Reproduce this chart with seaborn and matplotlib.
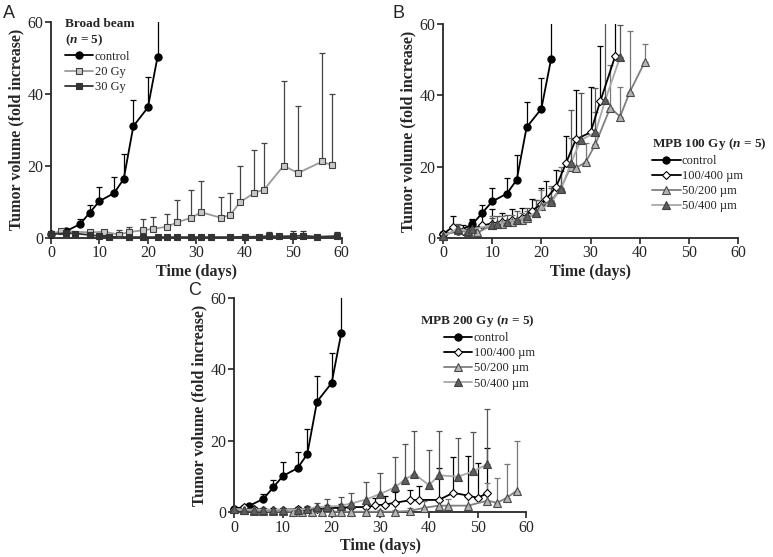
import numpy as np
import matplotlib
matplotlib.use("Agg")
import matplotlib.pyplot as plt
import seaborn as sns

# ---- data ----
# control (same group in every panel)
ctrl_days = [0, 3, 6, 8, 10, 13, 15, 17, 20, 22]
ctrl_vals = [1, 1.8, 3.8, 7, 10.2, 12.4, 16.3, 31, 36.2, 50.3]
ctrl_err = [0.3, 0.5, 1.4, 2.2, 3.9, 4.5, 7, 7.2, 8.5, 15]

# panel A: broad beam
gy20_days = [0, 2, 8, 11, 14, 16, 19, 21, 24, 26, 29, 31, 35, 37, 39, 42, 44, 48, 51, 56, 58]
gy20_vals = [1, 1.9, 1.5, 1.7, 0.9, 1.6, 2.1, 2.5, 3.1, 4.3, 5.6, 7.1, 5.6, 6.3, 9.9, 12.5, 13.4, 20, 18, 21.2, 20.1]
gy20_err = [0.3, 0.3, 0.3, 0.3, 1.2, 1.4, 3.2, 3.2, 3.6, 6.1, 7.8, 8.7, 5.7, 6.2, 10, 11.9, 12.8, 23.5, 18.6, 30.1, 19.8]

gy30_days = [0, 3, 5, 8, 10, 12, 16, 19, 22, 24, 26, 29, 31, 33, 37, 40, 43, 45, 47, 50, 52, 55, 59]
gy30_vals = [1, 1.3, 1.2, 0.8, 0.5, 0.3, 0.2, 0.2, 0.2, 0.2, 0.2, 0.2, 0.2, 0.2, 0.2, 0.3, 0.3, 0.5, 0.4, 0.5, 0.6, 0.3, 0.5]
gy30_err = [0.3, 0.3, 0.3, 0.3, 0.3, 0.2, 0.1, 0.1, 0.1, 0.1, 0.1, 0.1, 0.1, 0.1, 0.2, 0.5, 0.3, 1.2, 0.3, 1.4, 1.2, 0.3, 1.2]

# panel B: MPB 100 Gy
b100_days = [0, 2, 4, 6, 8, 10, 12, 14, 16, 18, 20, 21, 23, 25, 27, 30, 32, 35]
b100_vals = [1, 3.1, 2.0, 2.5, 3.5, 4.0, 4.5, 5.0, 5.5, 7.5, 9.5, 11, 14.3, 20.9, 27.6, 29.6, 38.4, 51]
b100_err = [0.5, 3, 1.5, 2.5, 3, 4, 2.5, 3, 3, 3.5, 4.5, 5, 4.7, 7.7, 13.9, 12.6, 15.3, 15]

b50_200_days = [0, 3, 5, 7, 10, 12, 14, 16, 17, 19, 20, 22, 24, 26, 27, 29, 31, 34, 36, 38, 41]
b50_200_vals = [0.5, 2.2, 1.5, 1.5, 3.5, 4, 4.5, 5, 5.5, 7, 9, 10.5, 14, 20, 19.6, 21.2, 26.3, 36.5, 34, 41, 49.3]
b50_200_err = [0.5, 1.5, 1, 1.5, 2.5, 2, 2, 2, 2, 3.5, 4.5, 4, 6, 8, 8, 5.3, 9, 12, 8.2, 17, 5.1]

b50_400_days = [0, 3, 5, 6, 10, 11, 13, 15, 17, 19, 22, 24, 26, 28, 31, 33, 36]
b50_400_vals = [0.5, 2.5, 2, 2.5, 3.5, 4, 4.5, 5, 6, 7, 10, 13.7, 20.9, 27.4, 29.6, 38.7, 50.7]
b50_400_err = [0.5, 1.5, 1, 1.5, 2, 2, 2, 2.5, 2.5, 3.5, 4, 5, 15, 13.3, 12.5, 22, 9]

# panel C: MPB 200 Gy
c100_days = [0, 2, 4, 6, 8, 10, 13, 15, 17, 19, 22, 24, 27, 29, 31, 33, 36, 38, 42, 45, 48, 50, 52]
c100_vals = [1, 1.5, 1, 0.8, 0.7, 0.8, 0.9, 1, 1, 1.2, 1.3, 1.5, 1.5, 2, 2.2, 2.7, 3.4, 3.5, 3.5, 5.5, 4.7, 4.1, 5.4]
c100_err = [0.3, 0.5, 0.4, 0.4, 0.4, 0.4, 0.5, 0.5, 0.6, 0.8, 1, 1.2, 1.5, 2, 2.5, 3, 3, 4, 9, 10, 11, 9.7, 12.7]

c50_200_days = [0, 2, 4, 6, 8, 10, 12, 14, 16, 18, 20, 22, 24, 27, 30, 33, 36, 39, 42, 44, 48, 52, 54, 56, 58]
c50_200_vals = [1, 0.6, 0.5, 0.4, 0.3, 0.3, 0.2, 0.2, 0.2, 0.2, 0.2, 0.2, 0.2, 0.2, 0.2, 0.2, 0.4, 1.3, 1.9, 1.9, 1.9, 3.3, 2.7, 4.1, 6.1]
c50_200_err = [0.3, 0.3, 0.3, 0.3, 0.3, 0.3, 0.3, 0.3, 0.3, 0.3, 0.3, 0.3, 0.3, 0.3, 0.5, 0.6, 0.8, 2, 2, 2, 3, 5, 6.9, 9.5, 14]

c50_400_days = [0, 2, 4, 6, 8, 10, 13, 15, 17, 19, 22, 24, 27, 30, 33, 35, 37, 40, 42, 46, 49, 52]
c50_400_vals = [1, 0.8, 0.8, 0.8, 0.7, 0.8, 0.8, 1, 1.5, 1.6, 1.9, 2.5, 3.6, 5.2, 7, 9.2, 10.8, 7.6, 10.4, 10, 11.5, 13.5]
c50_400_err = [0.5, 0.5, 0.5, 0.5, 0.5, 0.5, 0.6, 0.8, 1.2, 2.2, 2.5, 3, 4.8, 5.8, 8.5, 10, 12, 9.9, 12.5, 10.9, 10.9, 15.4]

# ---- styles ----
ctrl_style = dict(color="black", marker="o", mfc="black", mec="black", ecolor="black")
gy20_style = dict(color="#9a9a9a", marker="s", mfc="#c8c8c8", mec="#404040", ecolor="#444444")
gy30_style = dict(color="#333333", marker="s", mfc="#333333", mec="#333333", ecolor="#333333")
d100_style = dict(color="black", marker="D", mfc="white", mec="black", ecolor="black")
t200_style = dict(color="#808080", marker="^", mfc="#b4b4b4", mec="#4a4a4a", ecolor="#777777")
t400_style = dict(color="#a8a8a8", marker="^", mfc="#5e5e5e", mec="#404040", ecolor="#555555")

sns.set_style("ticks")
plt.rcParams["font.family"] = ["Liberation Serif", "DejaVu Serif"]
plt.rcParams["mathtext.fontset"] = "custom"
plt.rcParams["mathtext.rm"] = "Liberation Serif"
plt.rcParams["mathtext.it"] = "Liberation Serif:italic"
plt.rcParams["mathtext.bf"] = "Liberation Serif:bold"
plt.rcParams["mathtext.bfit"] = "Liberation Serif:bold:italic"


def draw_series(ax, days, vals, errs, label, st):
    ax.errorbar(days, vals, yerr=[np.zeros(len(errs)), errs], fmt="none",
                ecolor=st["ecolor"], elinewidth=0.9, capsize=2.2, capthick=0.9, zorder=2)
    ms = {"D": 4.2, "o": 5.2, "s": 4.6, "^": 5.4}[st["marker"]]
    sns.lineplot(x=days, y=vals, ax=ax, color=st["color"], marker=st["marker"],
                 markersize=ms, markerfacecolor=st["mfc"], markeredgecolor=st["mec"],
                 markeredgewidth=0.8, linewidth=1.3, label=label, estimator=None,
                 clip_on=False, zorder=3)


def style_axes(ax):
    ax.set_xlim(0, 60)
    ax.set_ylim(0, 60)
    ax.set_xticks(range(0, 61, 10))
    ax.set_yticks([0, 20, 40, 60])
    sns.despine(ax=ax)
    ax.spines["left"].set_linewidth(1.3)
    ax.spines["bottom"].set_linewidth(1.3)
    ax.tick_params(axis="both", direction="out", length=4, width=1.2, labelsize=11.5, pad=1.5)
    ax.set_xlabel("Time (days)", fontsize=11.5, fontweight="bold", labelpad=1.5)
    ax.set_ylabel("Tumor volume (fold increase)", fontsize=11.5, fontweight="bold", labelpad=2)


fig = plt.figure(figsize=(7.73, 5.57), dpi=100)
axA = fig.add_axes([0.066, 0.573, 0.376, 0.388])
axB = fig.add_axes([0.573, 0.573, 0.382, 0.384])
axC = fig.add_axes([0.303, 0.080, 0.378, 0.385])

leg_kw = dict(frameon=False, fontsize=9, handlelength=2.3, handletextpad=0.1,
              labelspacing=0.25, borderaxespad=0,
              title_fontproperties={"weight": "bold", "size": 9.5})

# Panel A
draw_series(axA, ctrl_days, ctrl_vals, ctrl_err, "control", ctrl_style)
draw_series(axA, gy20_days, gy20_vals, gy20_err, "20 Gy", gy20_style)
draw_series(axA, gy30_days, gy30_vals, gy30_err, "30 Gy", gy30_style)
style_axes(axA)
axA.legend(title="Broad beam\n($\\mathbfit{n}$ = 5)", loc="upper left",
           bbox_to_anchor=(0.03, 1.04), alignment="left", **leg_kw)

# Panel B
draw_series(axB, ctrl_days, ctrl_vals, ctrl_err, "control", ctrl_style)
draw_series(axB, b100_days, b100_vals, b100_err, "100/400 µm", d100_style)
draw_series(axB, b50_200_days, b50_200_vals, b50_200_err, "50/200 µm", t200_style)
draw_series(axB, b50_400_days, b50_400_vals, b50_400_err, "50/400 µm", t400_style)
style_axes(axB)
axB.legend(title="MPB 100 Gy ($\\mathbfit{n}$ = 5)", loc="upper right",
           bbox_to_anchor=(0.998, 0.765), bbox_transform=fig.transFigure,
           alignment="left", **leg_kw)

# Panel C
draw_series(axC, ctrl_days, ctrl_vals, ctrl_err, "control", ctrl_style)
draw_series(axC, c100_days, c100_vals, c100_err, "100/400 µm", d100_style)
draw_series(axC, c50_200_days, c50_200_vals, c50_200_err, "50/200 µm", t200_style)
draw_series(axC, c50_400_days, c50_400_vals, c50_400_err, "50/400 µm", t400_style)
style_axes(axC)
axC.legend(title="MPB 200 Gy ($\\mathbfit{n}$ = 5)", loc="upper right",
           bbox_to_anchor=(0.698, 0.447), bbox_transform=fig.transFigure,
           alignment="right", **leg_kw)

# panel letters
for letter, x, y in [("A", 0.004, 0.975), ("B", 0.508, 0.975), ("C", 0.243, 0.478)]:
    fig.text(x, y, letter, fontsize=13, family="Liberation Sans", va="center")

fig.savefig("out.png", dpi=100)
